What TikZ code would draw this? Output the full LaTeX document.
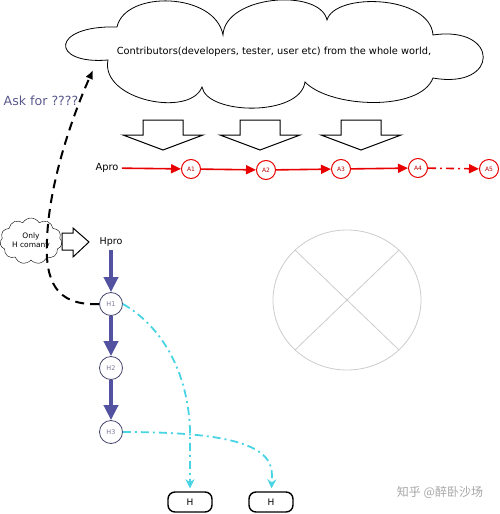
\documentclass[tikz,border=0pt]{standalone}
\usepackage{fontspec}
\setmainfont{DejaVu Sans}
\newfontfamily\cjkfont{Noto Sans CJK SC}
\usetikzlibrary{shapes.symbols,arrows.meta}
\definecolor{apred}{RGB}{232,0,0}
\definecolor{hblue}{RGB}{82,82,160}
\definecolor{hborder}{RGB}{70,70,110}
\definecolor{askblue}{RGB}{88,88,140}
\definecolor{flowcyan}{RGB}{72,212,226}
\definecolor{circgrey}{RGB}{204,204,204}
\begin{document}
\begin{tikzpicture}[
  x=1pt, y=-1pt,
  every node/.style={font=\fontsize{9.8}{11}\selectfont},
  anode/.style={circle, draw=apred, line width=1pt, fill=white, text=apred!80!black,
    inner sep=0pt, minimum size=19pt, font=\fontsize{6}{6}\selectfont},
  hnode/.style={circle, draw=hborder, line width=0.8pt, fill=white, text=hborder!70,
    inner sep=0pt, minimum size=23pt, font=\fontsize{6.5}{6.5}\selectfont},
  aflow/.style={draw=apred, line width=1.6pt, -{Triangle[length=10pt,width=9pt]}},
  hflow/.style={draw=hblue, line width=4pt, -{Triangle[length=15pt,width=14pt]}},
  cflow/.style={draw=flowcyan, line width=1.8pt, dash pattern=on 8pt off 4pt on 2pt off 4pt,
    -{Stealth[length=9pt,width=9pt]}, shorten >=3pt},
  askflow/.style={draw=black, line width=2pt, dash pattern=on 9pt off 6pt,
    -{Latex[length=9pt,width=8pt]}},
  hbox/.style={draw, line width=1.4pt, rounded corners=7pt, minimum width=44pt,
    minimum height=20pt, inner sep=0pt},
  hollowdown/.pic={
    \draw[line width=1pt, fill=white] (-20,0) -- (20,0) -- (20,15) -- (40,15)
      -- (0,30) -- (-40,15) -- (-20,15) -- cycle;
  }
]
\useasboundingbox (0,0) rectangle (500,514);

% Wolk van bijdragers
\draw[line width=0.8pt] (117,27) .. controls (125,-10) and (215,-8) .. (223,35)
  .. controls (225,-5) and (320,-12) .. (327,20)
  .. controls (335,-8) and (430,-5) .. (433,35)
  .. controls (500,25) and (500,90) .. (433,78)
  .. controls (420,112) and (330,108) .. (305,82)
  .. controls (300,117) and (207,115) .. (202,87)
  .. controls (190,118) and (100,100) .. (108,60)
  .. controls (50,65) and (50,25) .. cycle;
\node (contrib) at (274,52) {Contributors(developers, tester, user etc) from the whole world,};
\foreach \x in {163,260,361}
  \pic at (\x,120) {hollowdown};

% Apro lijn
\node (apro) at (107,168) {Apro};
\node (a1) [anode] at (191,169) {A1};
\node (a2) [anode] at (266,170) {A2};
\node (a3) [anode] at (341,169) {A3};
\node (a4) [anode] at (418,168) {A4};
\node (a5) [anode] at (489,169) {A5};
\draw[aflow] (apro) -- (a1);
\draw[aflow] (a1) -- (a2);
\draw[aflow] (a2) -- (a3);
\draw[aflow] (a3) -- (a4);
\draw[aflow, dash pattern=on 8pt off 4pt on 2pt off 4pt] (a4) -- (a5);

% Hpro lijn
\node (only) [cloud, draw, cloud puffs=11, cloud puff arc=120, cloud ignores aspect,
  minimum width=62pt, minimum height=46pt, inner sep=0pt, align=center,
  font=\fontsize{7.5}{9}\selectfont] at (31,241) {Only\\H comany};
\draw[line width=1pt, fill=white] (62,233) -- (73,233) -- (73,228) -- (89,242)
  -- (73,257) -- (73,250) -- (62,250) -- cycle;
\node (hpro) [font=\fontsize{9.5}{11}\selectfont] at (111,242) {Hpro};
\node (h1) [hnode] at (111,304) {H1};
\node (h2) [hnode] at (111,368) {H2};
\node (h3) [hnode] at (111,432) {H3};
\draw[hflow] (hpro) -- (h1);
\draw[hflow] (h1) -- (h2);
\draw[hflow] (h2) -- (h3);

\node (hout1) [hbox, font=\fontsize{9}{10}\selectfont] at (190,502) {H};
\node (hout2) [hbox, font=\fontsize{9}{10}\selectfont] at (271,502) {H};
\draw[cflow] (h1.east) .. controls (160,325) and (188,370) .. (190,430) -- (hout1);
\draw[cflow] (h3.east) .. controls (230,432) and (272,445) .. (272,475) -- (hout2);

% Vraag
\coordinate (askend) at (93,70);
\node (ask) [text=askblue, font=\fontsize{12.6}{13}\selectfont] at (41,101) {Ask for ????};
\draw[askflow] (h1.west) .. controls (55,306) and (45,280) .. (47,240)
  .. controls (49,180) and (75,110) .. (askend);

% Cirkel
\coordinate (xc) at (347,300);
\draw[circgrey, line width=0.8pt] (xc) ellipse [x radius=74, y radius=70];
\draw[circgrey, line width=0.8pt] (295,250) -- (399,350);
\draw[circgrey, line width=0.8pt] (399,250) -- (295,350);

\node (mark) [text=black!35, font=\cjkfont\fontsize{12}{12}\selectfont] at (440,492) {知乎 @醉卧沙场};
\end{tikzpicture}
\end{document}
